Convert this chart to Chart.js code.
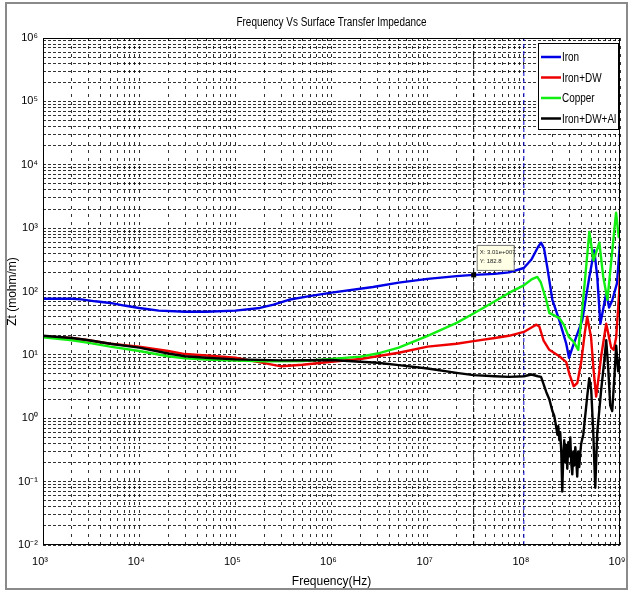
<!DOCTYPE html>
<html><head><meta charset="utf-8">
<script src="https://cdn.jsdelivr.net/npm/chart.js@4.4.1/dist/chart.umd.min.js"></script>
<style>
html,body{margin:0;padding:0;background:#fff;}
#wrap{position:relative;width:630px;height:591px;overflow:hidden;}
#frame{position:absolute;left:5px;top:2px;width:623px;height:588px;box-sizing:border-box;border:2px solid #8a8a8a;}
canvas{position:absolute;left:0;top:0;}
</style></head><body>
<div id="wrap"><div id="frame"></div><canvas id="c" width="630" height="591"></canvas></div>
<script>
const chartTitle = 'Frequency Vs Surface Transfer Impedance';
const xAxisTitle = 'Frequency(Hz)';
const yAxisTitle = 'Zt (mohm/m)';
const seriesNames = ['Iron', 'Iron+DW', 'Copper', 'Iron+DW+Al'];
const seriesColors = ['#0000e6', '#ee0000', '#11ee11', '#000000'];
const xTickExponents = [3, 4, 5, 6, 7, 8, 9];
const yTickExponents = [-2, -1, 0, 1, 2, 3, 4, 5, 6];

const ironFreq = [1e3,2e3,2.5e3,3.5e3,5e3,7e3,1e4,1.6e4,3e4,5e4,1e5,1.8e5,2.5e5,3.6e5,5.5e5,1e6,2.7e6,5e6,1e7,2e7,3.01e7,5e7,7e7,1e8,1.2e8,1.4e8,1.51e8,1.62e8,1.75e8,1.98e8,2.34e8,2.76e8,2.95e8,3.2e8,3.5e8,4.05e8,4.8e8,5.4e8,5.8e8,6.25e8,7.2e8,7.7e8,8.3e8,9.3e8,1e9];
const ironZt   = [77,77,75,70,66,60,55,50,48,48,50,55,62,74,83,96,118,138,158,175,183,190,200,235,320,500,590,480,245,74,35,15,9,13,19,35,170,450,170,31,95,56,72,135,590];

const ironDwFreq = [1e3,2e3,3e3,5e3,1e4,2e4,3e4,5e4,1e5,2e5,3e5,5e5,1e6,2e6,3e6,5e6,1e7,2e7,3e7,5e7,7e7,1e8,1.2e8,1.35e8,1.45e8,1.6e8,1.84e8,2.34e8,2.76e8,3.0e8,3.3e8,3.6e8,3.95e8,4.3e8,4.56e8,5.0e8,5.3e8,5.65e8,6.0e8,6.37e8,7.19e8,8.1e8,8.6e8,9.13e8,9.8e8,1e9];
const ironDwZt   = [19.5,18.5,17,15,13.5,11.5,10.3,9.8,9.0,7.4,6.6,7.0,7.8,8.6,9.5,10.8,13.5,15,16.5,18.5,20,23,27,30,28,17,12,9.5,7.7,4.8,3.2,3.6,7.7,22,40,19,6,2.2,4.5,9.5,31,13,12,19,95,200];

const copperFreq = [1e3,2e3,3e3,5e3,1e4,2e4,3e4,5e4,1e5,2e5,5e5,1e6,2e6,3e6,5e6,1e7,2e7,3e7,5e7,7e7,1e8,1.2e8,1.38e8,1.5e8,1.71e8,1.84e8,2.34e8,2.6e8,2.95e8,3.3e8,3.68e8,4.05e8,4.8e8,5.3e8,6.1e8,6.7e8,7.4e8,8.0e8,9.1e8,9.7e8,1e9];
const copperZt   = [19,17,15.5,13.5,11.5,9.5,8.8,8.4,8.1,7.9,8.0,8.6,9.4,10.5,13,20,32,45,70,95,125,155,170,140,74,46,38,30,19,16,12,52,870,310,590,170,74,245,1750,720,960];

const ironDwAlFreq = [1e3,2e3,3e3,5e3,1e4,2e4,3e4,5e4,1e5,3e5,1e6,2e6,3e6,5e6,1e7,2e7,3e7,5e7,7e7,1e8,1.2e8,1.4e8,1.51e8,1.71e8,1.84e8,1.98e8,2.07e8,2.18e8,2.23e8,2.28e8,2.34e8,2.39e8,2.45e8,2.51e8,2.57e8,2.63e8,2.7e8,2.76e8,2.83e8,2.9e8,2.97e8,3.04e8,3.11e8,3.19e8,3.27e8,3.34e8,3.43e8,3.51e8,3.59e8,3.68e8,3.77e8,3.86e8,3.95e8,4.15e8,4.35e8,4.56e8,4.79e8,5.02e8,5.27e8,5.53e8,5.8e8,6.08e8,6.37e8,6.86e8,7.19e8,7.55e8,7.91e8,8.3e8,8.7e8,9.13e8,9.56e8,1e9];
const ironDwAlZt   = [20,18.5,17,15,13,10.5,9.5,9.0,8.5,8.2,8.3,7.8,7.5,6.9,6.1,5.2,4.8,4.6,4.5,4.6,4.9,4.6,4.5,2.6,2.0,1.3,1.1,0.7,0.55,0.75,0.45,0.6,0.3,0.07,0.25,0.45,0.2,0.38,0.16,0.42,0.25,0.5,0.2,0.13,0.3,0.18,0.35,0.22,0.12,0.3,0.17,0.28,0.4,0.55,1.1,2.2,4.3,2.8,0.6,0.08,0.6,1.3,2.8,8,17,6,1.6,1.3,4,14,5.5,9];

const cursorFreqs  = [3.01e7, 1e8];
const cursorColors = ['#000000', '#0000cc'];
const dataTipPoint = [3.01e7, 182.8];
const dataTipLines = ['X: 3.01e+007', 'Y: 182.8'];

const FONT = "'Liberation Sans', Arial, sans-serif";
const NARROW = 0.83;
const SUP = {'-':'\u207B','0':'\u2070','1':'\u00B9','2':'\u00B2','3':'\u00B3','4':'\u2074','5':'\u2075','6':'\u2076','7':'\u2077','8':'\u2078','9':'\u2079'};
const supStr = n => String(n).split('').map(c => SUP[c]).join('');
const isDecade = v => Math.abs(Math.log10(v) - Math.round(Math.log10(v))) < 1e-9;
const decadeLabel = v => '10' + supStr(Math.round(Math.log10(v)));
function logTicks(exps) {
  const out = [];
  for (let i = 0; i < exps.length - 1; i++) {
    for (let m = 1; m <= 9; m++) out.push(m * Math.pow(10, exps[i]));
  }
  out.push(Math.pow(10, exps[exps.length - 1]));
  return out;
}
const xTickValues = logTicks(xTickExponents);
const yTickValues = logTicks(yTickExponents);
const yMin = Math.pow(10, yTickExponents[0]);
const yMax = Math.pow(10, yTickExponents[yTickExponents.length - 1]);

const seriesFreqs = [ironFreq, ironDwFreq, copperFreq, ironDwAlFreq];
const seriesZts = [ironZt, ironDwZt, copperZt, ironDwAlZt];

const datasets = seriesNames.map((name, i) => ({
  label: name,
  data: seriesFreqs[i].map((f, k) => ({x: f, y: seriesZts[i][k]})),
  borderColor: seriesColors[i],
  backgroundColor: seriesColors[i],
  borderWidth: 2.4,
  pointRadius: 0,
  tension: 0,
  fill: false,
  order: 4 - i,
  borderJoinStyle: 'round'
}));
cursorFreqs.forEach((f, i) => datasets.push({
  label: '_cursor' + i,
  data: [{x: f, y: yMin}, {x: f, y: yMax}],
  borderColor: cursorColors[i],
  borderWidth: 1,
  borderDash: [4, 3],
  pointRadius: 0,
  fill: false,
  order: 10
}));

function narrowText(ctx, text, x, y, align) {
  ctx.save();
  ctx.translate(x, y);
  ctx.scale(NARROW, 1);
  ctx.textAlign = align;
  ctx.fillText(text, 0, 0);
  ctx.restore();
}

const overlayPlugin = {
  id: 'overlay',
  afterDraw(chart) {
    const {ctx, chartArea: a, scales: {x, y}} = chart;
    ctx.save();
    ctx.setLineDash([]);
    ctx.strokeStyle = '#000';
    ctx.lineWidth = 1;
    ctx.strokeRect(a.left + 0.5, a.top + 0.5, a.right - a.left - 1, a.bottom - a.top - 1);
    // title
    ctx.fillStyle = '#000';
    ctx.font = '12px ' + FONT;
    ctx.textBaseline = 'middle';
    narrowText(ctx, chartTitle, (a.left + a.right) / 2, 23, 'center');
    // data tip
    const px = x.getPixelForValue(dataTipPoint[0]);
    const py = y.getPixelForValue(dataTipPoint[1]);
    ctx.fillStyle = '#000';
    ctx.fillRect(px - 2.5, py - 2.5, 5, 5);
    const bx = px + 3, by = py - 30, bw = 37, bh = 25;
    ctx.fillStyle = '#ffffe6';
    ctx.fillRect(bx, by, bw, bh);
    ctx.strokeStyle = '#777';
    ctx.strokeRect(bx + 0.5, by + 0.5, bw, bh);
    ctx.fillStyle = '#222';
    ctx.font = '6px ' + FONT;
    ctx.textAlign = 'left';
    ctx.fillText(dataTipLines[0], bx + 3, by + 7);
    ctx.fillText(dataTipLines[1], bx + 3, by + 16);
    // legend
    const lw = 80, lh = 86;
    const lx = a.right - lw - 2, ly = a.top + 5;
    ctx.fillStyle = '#fff';
    ctx.fillRect(lx, ly, lw, lh);
    ctx.strokeStyle = '#000';
    ctx.lineWidth = 1;
    ctx.strokeRect(lx + 0.5, ly + 0.5, lw, lh);
    ctx.font = '12px ' + FONT;
    seriesNames.forEach((name, i) => {
      const yy = ly + 14 + i * 20.5;
      ctx.strokeStyle = seriesColors[i];
      ctx.lineWidth = 2.5;
      ctx.beginPath();
      ctx.moveTo(lx + 3, yy);
      ctx.lineTo(lx + 23, yy);
      ctx.stroke();
      ctx.fillStyle = '#000';
      narrowText(ctx, name, lx + 24, yy + 1, 'left');
    });
    ctx.restore();
  }
};

new Chart(document.getElementById('c'), {
  type: 'line',
  data: {datasets},
  options: {
    responsive: false,
    devicePixelRatio: 1,
    animation: false,
    events: [],
    layout: {padding: {left: 0, right: 0, top: 38, bottom: 0}},
    plugins: {legend: {display: false}, title: {display: false}, tooltip: {enabled: false}},
    scales: {
      x: {
        type: 'logarithmic', min: xTickValues[0], max: xTickValues[xTickValues.length - 1],
        afterBuildTicks: s => { s.ticks = xTickValues.map(v => ({value: v})); },
        afterFit: s => { s.height = 46; s.paddingRight = 10; },
        ticks: {autoSkip: false, maxRotation: 0, minRotation: 0, padding: 10, labelOffset: -3, color: '#000',
          font: {family: FONT, size: 11}, callback: v => isDecade(v) ? decadeLabel(v) : ''},
        grid: {color: 'rgba(0,0,0,0.8)', lineWidth: 1, drawTicks: false},
        border: {display: false, dash: [3, 5]},
        title: {display: true, text: xAxisTitle, color: '#000', font: {family: FONT, size: 12}, padding: {top: 0, bottom: 2}}
      },
      y: {
        type: 'logarithmic', min: yMin, max: yMax,
        afterBuildTicks: s => { s.ticks = yTickValues.map(v => ({value: v})); },
        afterFit: s => { s.width = 43; },
        ticks: {autoSkip: false, padding: 5, color: '#000',
          font: {family: FONT, size: 11}, callback: v => isDecade(v) ? decadeLabel(v) : ''},
        grid: {color: 'rgba(0,0,0,0.8)', lineWidth: 1, drawTicks: false},
        border: {display: false, dash: [3, 2]},
        title: {display: true, text: yAxisTitle, color: '#000', font: {family: FONT, size: 12}, padding: {top: 5, bottom: 0}}
      }
    }
  },
  plugins: [overlayPlugin]
});
</script>
</body></html>
